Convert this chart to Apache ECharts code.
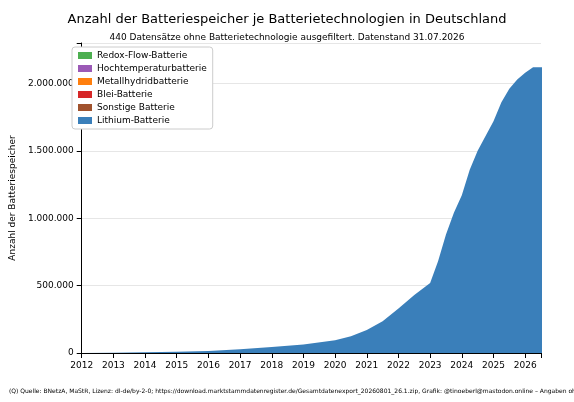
<!DOCTYPE html>
<html><head><meta charset="utf-8">
<script src="https://cdn.jsdelivr.net/npm/echarts@6/dist/echarts.min.js"></script>
<style>html,body{margin:0;background:#fff}#c{width:574px;height:402px}</style>
</head><body><div id="c"></div>
<script>
const dates   = [2012,2013,2014,2015,2016,2017,2018,2019,2020,2020.5,2021,2021.5,2022,2022.5,2023,2023.25,2023.5,2023.75,2024,2024.25,2024.5,2024.75,2025,2025.25,2025.5,2025.75,2026,2026.25,2026.58];
const lithium = [200,2000,5000,9000,15000,28000,45000,63000,95000,125000,170000,235000,330000,430000,520000,680000,880000,1040000,1170000,1360000,1500000,1610000,1720000,1860000,1960000,2030000,2080000,2120000,2120000];
const sonstige= [0,0,0,500,1000,1500,2000,3000,4000,5000,7000,9000,12000,15000,20000,25000,30000,35000,40000,43000,45000,48000,50000,52000,54000,56000,58000,60000,62000];
const blei    = dates.map(()=>300);
const metall  = dates.map(()=>50);
const hoch    = dates.map(()=>20);
const redox   = dates.map(()=>50);
const names = ['Lithium-Batterie','Sonstige Batterie','Blei-Batterie','Metallhydridbatterie','Hochtemperaturbatterie','Redox-Flow-Batterie'];
const colors= ['#3a7fba','#a0522d','#d62728','#ff7f0e','#9b59b6','#4caf50'];
const vals = [lithium,sonstige,blei,metall,hoch,redox];
const fmt = v => v.toLocaleString('de-DE');
const series = names.map((n,i)=>({name:n,type:'line',stack:'a',symbol:'none',lineStyle:{width:0},
  areaStyle:{color:colors[i],opacity:1},itemStyle:{color:colors[i]},data:dates.map((d,j)=>[d,vals[i][j]])}));
const ch = echarts.init(document.getElementById('c'));
ch.setOption({
  animation:false,
  title:[{text:'Anzahl der Batteriespeicher je Batterietechnologien in Deutschland',left:'center',top:8,textStyle:{fontSize:13,fontWeight:'normal',color:'#000',fontFamily:'DejaVu Sans'}},
         {text:'440 Datensätze ohne Batterietechnologie ausgefiltert. Datenstand 31.07.2026',left:'center',top:28,textStyle:{fontSize:9,fontWeight:'normal',color:'#000',fontFamily:'DejaVu Sans'}},
         {text:'(Q) Quelle: BNetzA, MaStR, Lizenz: dl-de/by-2-0; https://download.marktstammdatenregister.de/Gesamtdatenexport_20260801_26.1.zip, Grafik: @tinoeberl@mastodon.online – Angaben ohne Gewähr.',left:4,top:383,textStyle:{fontSize:6,fontWeight:'normal',color:'#000',fontFamily:'DejaVu Sans'}}],
  legend:{data:names.slice().reverse(),orient:'vertical',left:72,top:47,itemWidth:14,itemHeight:7,itemGap:4,icon:'rect',
    backgroundColor:'#fff',borderColor:'#ccc',borderWidth:1,borderRadius:3,padding:[4,6],textStyle:{fontSize:9,color:'#000',fontFamily:'DejaVu Sans'}},
  grid:{left:68,right:33,top:43,bottom:49},
  xAxis:{type:'value',min:2012,max:2026.5,interval:1,axisLine:{lineStyle:{color:'#000'}},axisTick:{lineStyle:{color:'#000'}},
    axisLabel:{color:'#000',fontSize:9,fontFamily:'DejaVu Sans',formatter:v=>Number.isInteger(v)?String(v):''},splitLine:{show:false}},
  yAxis:{type:'value',min:0,max:2300000,interval:500000,name:'Anzahl der Batteriespeicher',nameLocation:'middle',nameGap:52,
    nameTextStyle:{fontSize:9,color:'#000',fontFamily:'DejaVu Sans'},axisLine:{show:true,lineStyle:{color:'#000'}},axisTick:{show:true,lineStyle:{color:'#000'}},
    axisLabel:{color:'#000',fontSize:9,fontFamily:'DejaVu Sans',formatter:v=>v%500000===0?fmt(v):''},splitLine:{lineStyle:{color:'#e6e6e6'}}},
  series
});
</script></body></html>
